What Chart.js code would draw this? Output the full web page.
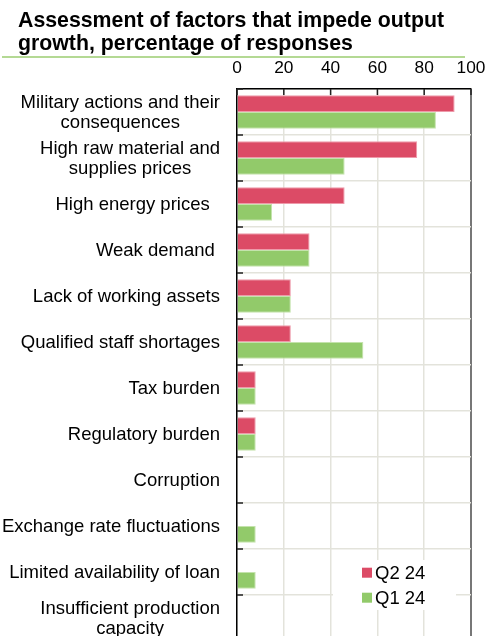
<!DOCTYPE html>
<html>
<head>
<meta charset="utf-8">
<script src="https://cdn.jsdelivr.net/npm/chart.js@4.4.1/dist/chart.umd.min.js"></script>
<style>
    html, body { margin: 0; padding: 0; overflow: hidden; background: #fff; }
    canvas { display: block; }
</style>
</head>
<body>
<canvas id="factorsChart" width="487" height="641"></canvas>
<script>
const chartTitle = ['Assessment of factors that impede output', 'growth, percentage of responses'];
const factors = [
    ['Military actions and their', 'consequences'],
    ['High raw material and', 'supplies prices'],
    'High energy prices  ',
    'Weak demand ',
    'Lack of working assets',
    'Qualified staff shortages',
    'Tax burden',
    'Regulatory burden',
    'Corruption',
    'Exchange rate fluctuations',
    'Limited availability of loan',
    ['Insufficient production', 'capacity']
];
const seriesNames = ['Q2 24', 'Q1 24'];
const q2Values = [93, 77, 46, 31, 23, 23, 8, 8, 0, 0, 0, 0];
const q1Values = [85, 46, 15, 31, 23, 54, 8, 8, 0, 8, 8, 0];
const xTicks = [0, 20, 40, 60, 80, 100];

const FONT = '"Liberation Sans", Arial, sans-serif';
const RED = '#DC4B66';
const GREEN = '#92CA6A';
const GRID = '#E3E3DB';

// title, y labels, inner tick marks and the in-plot legend
const customDraw = {
    id: 'customDraw',
    afterDraw(chart) {
        const { ctx, chartArea: area, scales: { x, y } } = chart;
        ctx.save();

        ctx.fillStyle = '#000';
        ctx.font = 'bold 21.3px ' + FONT;
        ctx.textAlign = 'left';
        ctx.textBaseline = 'alphabetic';
        chartTitle.forEach((line, i) => ctx.fillText(line, 18, 27 + i * 23.3));

        ctx.strokeStyle = '#9BCD70';
        ctx.lineWidth = 1.5;
        ctx.beginPath();
        ctx.moveTo(2, 57);
        ctx.lineTo(465, 57);
        ctx.stroke();

        ctx.strokeStyle = '#222';
        ctx.lineWidth = 1.5;
        ctx.beginPath();
        x.ticks.forEach(t => {
            const px = x.getPixelForValue(t.value);
            ctx.moveTo(px, area.top);
            ctx.lineTo(px, area.top + 6);
        });
        for (let i = 0; i <= factors.length; i++) {
            const py = y.getPixelForValue(i - 0.5);
            ctx.moveTo(area.left, py);
            ctx.lineTo(area.left + 6, py);
        }
        ctx.stroke();

        ctx.font = '18.5px ' + FONT;
        ctx.textAlign = 'center';
        factors.forEach((label, i) => {
            const lines = Array.isArray(label) ? label : [label];
            const w = Math.max(...lines.map(l => ctx.measureText(l).width));
            const cx = 220 - w / 2;
            const cy = y.getPixelForValue(i);
            lines.forEach((l, j) => {
                ctx.fillText(l, cx, cy + 6 + (j - (lines.length - 1) / 2) * 20.6);
            });
        });

        const lx = area.right - 138;
        const ly = area.bottom - 81;
        ctx.fillStyle = '#fff';
        ctx.fillRect(lx, ly, 123, 50);
        ctx.textAlign = 'left';
        ctx.textBaseline = 'middle';
        chart.data.datasets.forEach((ds, i) => {
            const rowY = ly + 12.7 + i * 25;
            ctx.fillStyle = ds.backgroundColor;
            ctx.fillRect(lx + 29, rowY - 5, 10, 10);
            ctx.fillStyle = '#000';
            ctx.fillText(ds.label, lx + 42, rowY + 1);
        });
        ctx.restore();
    }
};

const ctx = document.getElementById('factorsChart').getContext('2d');
new Chart(ctx, {
    type: 'bar',
    data: {
        labels: factors,
        datasets: [{
            label: seriesNames[0],
            data: q2Values,
            backgroundColor: RED,
            borderColor: '#EE9AAA',
            borderWidth: 1,
            categoryPercentage: 0.725,
            barPercentage: 1
        }, {
            label: seriesNames[1],
            data: q1Values,
            backgroundColor: GREEN,
            borderColor: '#C4E3AC',
            borderWidth: 1,
            categoryPercentage: 0.725,
            barPercentage: 1
        }]
    },
    options: {
        indexAxis: 'y',
        responsive: false,
        animation: false,
        layout: { padding: { top: 57, right: 16, left: 0, bottom: 0 } },
        plugins: {
            legend: { display: false },
            title: { display: false },
            tooltip: { enabled: false }
        },
        scales: {
            x: {
                position: 'top',
                min: 0,
                max: 100,
                afterBuildTicks: scale => { scale.ticks = xTicks.map(v => ({ value: v })); },
                afterFit: scale => {
                    scale.height = 32;
                    scale.paddingLeft = 0;
                    scale.paddingRight = 0;
                },
                ticks: { color: '#000', font: { family: FONT, size: 17.3 }, padding: 10, maxRotation: 0 },
                grid: {
                    color: c => (c.tick && c.tick.value === 100 ? '#777' : GRID),
                    lineWidth: c => (c.tick && c.tick.value === 100 ? 2 : 1.5),
                    drawTicks: false
                },
                border: { color: '#000', width: 1.5 }
            },
            y: {
                afterFit: scale => { scale.width = 237; },
                ticks: { display: false },
                grid: { color: GRID, lineWidth: 1.5, drawTicks: false, offset: true },
                border: { color: '#000', width: 1.5 }
            }
        }
    },
    plugins: [customDraw]
});
</script>
</body>
</html>
